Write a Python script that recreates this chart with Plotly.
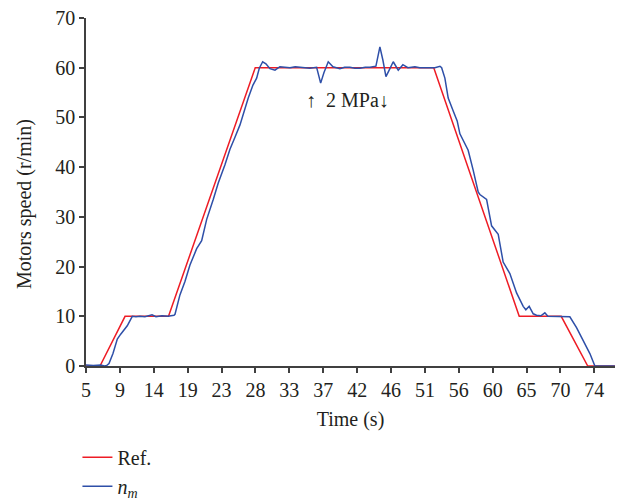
import plotly.graph_objects as go

# Reference speed profile (Ref.)
ref_t = [5, 6.9, 10.3, 16.2, 27.97, 52.2, 63.8, 69.5, 73.1, 76.8]
ref_v = [0, 0, 10, 10, 60, 60, 10, 10, 0, 0]

# Measured motor speed (n_m)
nm_t = [5, 6.0, 7.0, 7.5, 7.8, 8.12, 8.66, 9.25, 9.71, 10.16, 10.6, 11.28, 11.78, 12.33, 13.0,
        13.96, 14.5, 15.31, 16.13, 16.94, 17.08, 17.75, 18.43, 19.11, 20.02, 20.7, 21.38, 22.27,
        22.95, 23.86, 24.54, 25.22, 25.9, 27.02, 27.66, 28.16, 28.52, 28.98, 29.42, 29.97, 30.65,
        31.32, 32.0, 32.68, 33.4, 34.04, 34.7, 35.39, 36.3, 36.85, 37.29, 37.88, 38.52, 39.46,
        40.1, 40.82, 41.5, 42.18, 42.9, 43.54, 44.35, 44.89, 45.3, 45.71, 46.25, 46.7, 47.38,
        48.01, 48.69, 49.64, 50.3, 51.0, 51.7, 52.36, 53.04, 53.27, 53.71, 54.16, 54.84, 55.38,
        55.75, 56.2, 56.87, 57.55, 58.23, 58.46, 59.37, 60.05, 60.95, 61.62, 62.53, 63.44, 64.34,
        64.7, 65.15, 65.7, 66.15, 66.74, 67.28, 67.69, 68.64, 70.0, 70.67, 71.58, 72.48, 73.39,
        74.07, 76.78]
nm_v = [0.2, 0.1, 0.2, 0.0, 0.1, 0.5, 2.5, 5.4, 6.4, 7.2, 8.1, 10.0, 9.9, 10.0, 9.9,
        10.3, 9.9, 10.1, 10.0, 10.2, 10.4, 14.3, 17.0, 20.3, 23.6, 25.2, 29.5, 33.5,
        36.8, 40.5, 43.6, 46.0, 48.5, 53.9, 56.5, 57.9, 59.9, 61.2, 60.8, 59.8, 59.5,
        60.2, 60.1, 60.0, 60.2, 60.1, 59.9, 59.9, 60.1, 56.9, 59.0, 61.2, 60.2, 59.8,
        60.1, 60.1, 59.9, 59.9, 60.1, 60.1, 60.3, 64.2, 61.5, 58.2, 59.8, 61.2, 59.5,
        60.6, 60.0, 60.2, 60.0, 60.0, 60.1, 60.0, 60.3, 60.0, 57.9, 53.9, 51.3, 49.3,
        46.7, 45.3, 43.4, 39.4, 35.0, 34.5, 33.5, 28.2, 26.5, 20.9, 18.6, 14.7, 12.0,
        11.3, 12.0, 10.5, 10.2, 10.1, 10.7, 10.0, 10.0, 10.0, 9.9, 7.7, 5.1, 2.5,
        0.0, 0.0]

# Axis ticks
x_tickvals = [5 + 4.6 * i for i in range(16)]
x_ticktext = ["5", "9", "14", "19", "23", "28", "33", "37", "42", "46", "51", "56", "60", "65", "70", "74"]
y_tickvals = [0, 10, 20, 30, 40, 50, 60, 70]

FONT = "Liberation Serif"
TXT = "#231f20"
AX = "#404040"
FS = 20

fig = go.Figure()
fig.add_trace(go.Scatter(x=ref_t, y=ref_v, mode="lines", name="Ref.",
                         line=dict(color="#ee1c25", width=1.5)))
fig.add_trace(go.Scatter(x=nm_t, y=nm_v, mode="lines", name="<i>n</i><sub><i>m</i></sub>",
                         line=dict(color="#2e4fa8", width=1.5)))

fig.add_annotation(x=40.55, y=53.6, text="↑  2 MPa↓", showarrow=False,
                   font=dict(family=FONT, size=FS, color=TXT))
# y-axis title
fig.add_annotation(xref="paper", yref="paper", x=-0.115, y=0.466, text="Motors speed (r/min)",
                   textangle=-90, showarrow=False, xanchor="center", yanchor="middle",
                   font=dict(family=FONT, size=FS, color=TXT))

fig.update_layout(
    width=620, height=494,
    margin=dict(l=78, r=13, t=10, b=136, autoexpand=False),
    paper_bgcolor="white", plot_bgcolor="white",
    font=dict(family=FONT, size=FS, color=TXT),
    showlegend=True,
    legend=dict(orientation="v", xref="container", yref="container",
                x=0.112, xanchor="left", y=0.13, yanchor="top",
                font=dict(family=FONT, size=FS, color=TXT), tracegroupgap=0,
                bgcolor="rgba(0,0,0,0)"),
    xaxis=dict(range=[5, 76.8], tickvals=x_tickvals, ticktext=x_ticktext, automargin=True,
               showgrid=False, zeroline=False, showline=True, linecolor=AX, linewidth=1.5,
               ticks="outside", ticklen=5, tickcolor=AX, tickwidth=1.5, ticklabeloverflow="allow",
               tickfont=dict(family=FONT, size=FS, color=TXT),
               title=dict(text="Time (s)", standoff=12, font=dict(family=FONT, size=FS, color=TXT))),
    yaxis=dict(range=[0, 70], tickvals=y_tickvals, automargin=False,
               showgrid=False, zeroline=False, showline=True, linecolor=AX, linewidth=1.5,
               ticks="outside", ticklen=5, tickcolor=AX, tickwidth=1.5, ticklabeloverflow="allow",
               tickfont=dict(family=FONT, size=FS, color=TXT)),
)

fig.write_html("out.html")
